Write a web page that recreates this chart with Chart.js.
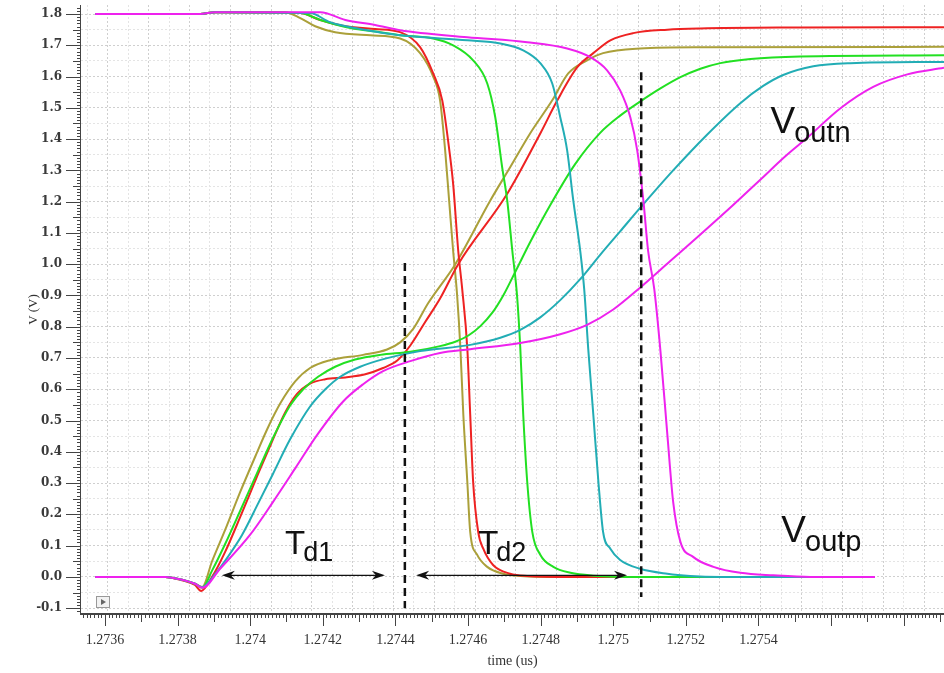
<!DOCTYPE html>
<html>
<head>
<meta charset="utf-8">
<script src="https://cdn.jsdelivr.net/npm/chart.js@4.4.1/dist/chart.umd.min.js"></script>
<style>
  html, body { margin: 0; padding: 0; background: #fff; }
  #wrap { width: 944px; height: 673px; }
</style>
</head>
<body>
<div id="wrap"><canvas id="myChart-delay"></canvas></div>
<script>
// axis tick labels
const xTickLabels = ['1.2736', '1.2738', '1.274', '1.2742', '1.2744', '1.2746', '1.2748', '1.275', '1.2752', '1.2754'];
const yTickLabels = ['-0.1', '0.0', '0.1', '0.2', '0.3', '0.4', '0.5', '0.6', '0.7', '0.8', '0.9',
                     '1.0', '1.1', '1.2', '1.3', '1.4', '1.5', '1.6', '1.7', '1.8'];

// Voutn traces (rising) : [time (us), V]
const outnOlive = [
  [1.273573, 0], [1.273766, 0], [1.273815, -0.010], [1.273848, -0.022], [1.273868, -0.032],
  [1.273895, 0.050], [1.273931, 0.150], [1.273972, 0.270], [1.274014, 0.385], [1.274050, 0.480],
  [1.274083, 0.555], [1.274124, 0.625], [1.274165, 0.668], [1.274220, 0.693], [1.274311, 0.710],
  [1.274377, 0.727], [1.274413, 0.750], [1.274449, 0.793], [1.274490, 0.875], [1.274565, 1.000],
  [1.274661, 1.203], [1.274716, 1.310], [1.274771, 1.418], [1.274832, 1.524], [1.274876, 1.610],
  [1.274928, 1.652], [1.274972, 1.675], [1.275074, 1.690], [1.275240, 1.694], [1.275911, 1.695]
];
const outnRed = [
  [1.273573, 0], [1.273766, 0], [1.273815, -0.012], [1.273848, -0.026], [1.273865, -0.045],
  [1.273895, 0.000], [1.273931, 0.080], [1.273972, 0.190], [1.274022, 0.330], [1.274061, 0.435],
  [1.274096, 0.525], [1.274129, 0.585], [1.274165, 0.618], [1.274207, 0.632], [1.274262, 0.638],
  [1.274317, 0.648], [1.274366, 0.668], [1.274405, 0.692], [1.274441, 0.740], [1.274482, 0.815],
  [1.274523, 0.890], [1.274573, 1.000], [1.274708, 1.225], [1.274799, 1.418], [1.274846, 1.524],
  [1.274901, 1.630], [1.274945, 1.675], [1.274992, 1.716], [1.275055, 1.739], [1.275149, 1.750],
  [1.275240, 1.754], [1.275515, 1.757], [1.275911, 1.758]
];
const outnGreen = [
  [1.273573, 0], [1.273766, 0], [1.273815, -0.010], [1.273848, -0.022], [1.273868, -0.035],
  [1.273895, 0.020], [1.273931, 0.105], [1.273972, 0.210], [1.274022, 0.340], [1.274063, 0.445],
  [1.274110, 0.548], [1.274146, 0.600], [1.274187, 0.640], [1.274234, 0.672], [1.274289, 0.695],
  [1.274358, 0.710], [1.274441, 0.720], [1.274523, 0.738], [1.274565, 0.752], [1.274601, 0.772],
  [1.274634, 0.802], [1.274667, 0.845], [1.274697, 0.900], [1.274730, 0.975], [1.274771, 1.070],
  [1.274827, 1.190], [1.274895, 1.320], [1.274964, 1.420], [1.275019, 1.475], [1.275074, 1.520],
  [1.275130, 1.562], [1.275185, 1.598], [1.275240, 1.625], [1.275295, 1.643], [1.275378, 1.656],
  [1.275515, 1.664], [1.275911, 1.668]
];
const outnTeal = [
  [1.273573, 0], [1.273766, 0], [1.273815, -0.010], [1.273848, -0.022], [1.273868, -0.033],
  [1.273904, 0.010], [1.273939, 0.065], [1.273978, 0.135], [1.274022, 0.235], [1.274063, 0.330],
  [1.274110, 0.440], [1.274165, 0.545], [1.274207, 0.600], [1.274248, 0.640], [1.274303, 0.672],
  [1.274372, 0.698], [1.274468, 0.722], [1.274606, 0.742], [1.274689, 0.765], [1.274744, 0.790],
  [1.274799, 0.830], [1.274854, 0.885], [1.274909, 0.952], [1.274964, 1.030], [1.275019, 1.105],
  [1.275074, 1.180], [1.275165, 1.300], [1.275259, 1.415], [1.275350, 1.515], [1.275413, 1.570],
  [1.275468, 1.605], [1.275551, 1.633], [1.275653, 1.643], [1.275911, 1.647]
];
const outnMagenta = [
  [1.273573, 0], [1.273766, 0], [1.273815, -0.010], [1.273848, -0.022], [1.273868, -0.035],
  [1.273917, 0.026], [1.274000, 0.135], [1.274063, 0.240], [1.274124, 0.347], [1.274185, 0.455],
  [1.274256, 0.561], [1.274311, 0.616], [1.274366, 0.658], [1.274441, 0.690], [1.274523, 0.716],
  [1.274606, 0.728], [1.274744, 0.748], [1.274854, 0.776], [1.274928, 0.806], [1.275000, 0.855],
  [1.275074, 0.925], [1.275157, 1.010], [1.275240, 1.095], [1.275331, 1.190], [1.275405, 1.270],
  [1.275474, 1.345], [1.275535, 1.405], [1.275625, 1.498], [1.275716, 1.567], [1.275810, 1.607],
  [1.275911, 1.628]
];

// Voutp traces (falling)
const outpOlive = [
  [1.273573, 1.800], [1.273862, 1.800], [1.273904, 1.806], [1.274096, 1.806], [1.274138, 1.787],
  [1.274179, 1.761], [1.274234, 1.742], [1.274331, 1.732], [1.274413, 1.722], [1.274468, 1.675],
  [1.274504, 1.600], [1.274523, 1.524], [1.274537, 1.364], [1.274548, 1.203], [1.274559, 1.043],
  [1.274570, 0.900], [1.274579, 0.731], [1.274587, 0.520], [1.274598, 0.305], [1.274606, 0.144],
  [1.274625, 0.071], [1.274653, 0.032], [1.274697, 0.010], [1.274744, 0.003], [1.274854, 0], [1.275721, 0]
];
const outpRed = [
  [1.273573, 1.800], [1.273862, 1.800], [1.273904, 1.806], [1.274138, 1.803], [1.274193, 1.781],
  [1.274262, 1.761], [1.274344, 1.752], [1.274413, 1.742], [1.274468, 1.694], [1.274504, 1.610],
  [1.274529, 1.524], [1.274545, 1.396], [1.274559, 1.257], [1.274573, 1.043], [1.274584, 0.920],
  [1.274598, 0.731], [1.274606, 0.520], [1.274614, 0.305], [1.274628, 0.144], [1.274642, 0.090],
  [1.274669, 0.038], [1.274716, 0.010], [1.274763, 0.003], [1.274882, 0], [1.275721, 0]
];
const outpGreen = [
  [1.273573, 1.800], [1.273862, 1.800], [1.273904, 1.806], [1.274138, 1.803], [1.274193, 1.781],
  [1.274276, 1.755], [1.274358, 1.742], [1.274413, 1.732], [1.274504, 1.722], [1.274559, 1.700],
  [1.274614, 1.652], [1.274653, 1.578], [1.274675, 1.470], [1.274694, 1.310], [1.274708, 1.203],
  [1.274722, 1.043], [1.274735, 0.900], [1.274744, 0.731], [1.274752, 0.520], [1.274763, 0.305],
  [1.274777, 0.144], [1.274799, 0.071], [1.274835, 0.032], [1.274882, 0.013], [1.274945, 0.004],
  [1.275074, 0], [1.275721, 0]
];
const outpTeal = [
  [1.273573, 1.800], [1.273862, 1.800], [1.273904, 1.806], [1.274165, 1.803], [1.274220, 1.774],
  [1.274303, 1.752], [1.274413, 1.732], [1.274598, 1.716], [1.274689, 1.706], [1.274752, 1.684],
  [1.274799, 1.643], [1.274832, 1.578], [1.274854, 1.470], [1.274873, 1.364], [1.274890, 1.203],
  [1.274909, 1.043], [1.274920, 0.920], [1.274931, 0.731], [1.274945, 0.520], [1.274959, 0.305],
  [1.274972, 0.144], [1.274992, 0.090], [1.275019, 0.054], [1.275074, 0.026], [1.275149, 0.010],
  [1.275212, 0.003], [1.275295, 0], [1.275721, 0]
];
const outpMagenta = [
  [1.273573, 1.800], [1.273862, 1.800], [1.273904, 1.806], [1.274193, 1.806], [1.274262, 1.781],
  [1.274344, 1.765], [1.274413, 1.748], [1.274598, 1.726], [1.274763, 1.710], [1.274873, 1.690],
  [1.274937, 1.662], [1.274983, 1.620], [1.275019, 1.556], [1.275047, 1.470], [1.275066, 1.364],
  [1.275083, 1.203], [1.275096, 1.043], [1.275113, 0.920], [1.275130, 0.722], [1.275149, 0.455],
  [1.275165, 0.240], [1.275185, 0.112], [1.275220, 0.064], [1.275276, 0.032], [1.275350, 0.013],
  [1.275441, 0.005], [1.275543, 0], [1.275721, 0]
];

// dashed markers and delay arrows
const markerTimes = [1.274426, 1.275077];
const markerTops = [1.004, 1.614];
const markerBottoms = [-0.1, -0.064];
const delaySpans = [[1.273922, 1.274371], [1.274457, 1.275038]];
const arrowLevel = 0.005;

// text labels: main letter, subscript, anchor time, anchor V (baseline)
const textLabels = [
  ['T', 'd1', 1.274096, 0.074],
  ['T', 'd2', 1.274628, 0.074],
  ['V', 'outn', 1.275433, 1.421],
  ['V', 'outp', 1.275463, 0.112]
];

const X_MIN = 1.273534, X_MAX = 1.275911;
const Y_MIN = -0.1187, Y_MAX = 1.8289;
const GRID_START = 1.273608, GRID_STEP = 0.0000562; // vertical dotted grid of the scope view

const colors = { olive: '#aba03a', red: '#ee2222', green: '#22e022', teal: '#22adb5', magenta: '#ee22ee' };

function trace(data, color, order) {
  return { data: data, borderColor: color, borderWidth: 2, pointRadius: 0,
           cubicInterpolationMode: 'monotone', fill: false, order: order };
}

const datasets = [
  trace(outpMagenta, colors.magenta, 1), trace(outnMagenta, colors.magenta, 1),
  trace(outpTeal, colors.teal, 2), trace(outnTeal, colors.teal, 2),
  trace(outpGreen, colors.green, 3), trace(outnGreen, colors.green, 3),
  trace(outpRed, colors.red, 4), trace(outnRed, colors.red, 4),
  trace(outpOlive, colors.olive, 5), trace(outnOlive, colors.olive, 5)
];
markerTimes.forEach((t, i) => {
  datasets.push({
    data: [[t, markerTops[i]], [t, markerBottoms[i]]],
    borderColor: '#111', borderWidth: 2.5, borderDash: [8, 5],
    pointRadius: 0, tension: 0, fill: false, order: 0
  });
});

const overlay = {
  id: 'overlay',
  afterDatasetsDraw(chart) {
    const { ctx, scales: { x, y } } = chart;
    ctx.save();
    // double-headed arrows
    ctx.strokeStyle = '#111';
    ctx.fillStyle = '#111';
    ctx.lineWidth = 1.3;
    delaySpans.forEach(([t0, t1]) => {
      const x0 = x.getPixelForValue(t0), x1 = x.getPixelForValue(t1);
      const py = y.getPixelForValue(arrowLevel);
      ctx.beginPath();
      ctx.moveTo(x0 + 6, py);
      ctx.lineTo(x1 - 6, py);
      ctx.stroke();
      [[x0, 1], [x1, -1]].forEach(([px, d]) => {
        ctx.beginPath();
        ctx.moveTo(px, py);
        ctx.lineTo(px + d * 13, py - 4.5);
        ctx.lineTo(px + d * 9, py);
        ctx.lineTo(px + d * 13, py + 4.5);
        ctx.closePath();
        ctx.fill();
      });
    });
    // subscripted labels
    ctx.fillStyle = '#111';
    ctx.textBaseline = 'alphabetic';
    textLabels.forEach(([main, sub, t, v]) => {
      const big = main === 'V';
      const px = x.getPixelForValue(t), py = y.getPixelForValue(v);
      ctx.font = (big ? 37 : 33) + 'px "Liberation Sans", Arial, sans-serif';
      ctx.fillText(main, px, py);
      const w = ctx.measureText(main).width;
      ctx.font = (big ? 29 : 27) + 'px "Liberation Sans", Arial, sans-serif';
      ctx.fillText(sub, px + w - (big ? 1 : 2), py + (big ? 9 : 7));
    });
    ctx.restore();
  },
  afterDraw(chart) {
    const { ctx, chartArea: a, scales: { x, y } } = chart;
    ctx.save();
    ctx.strokeStyle = '#444';
    ctx.lineWidth = 1;
    // y ruler
    ctx.beginPath();
    ctx.moveTo(a.left - 0.5, a.top);
    ctx.lineTo(a.left - 0.5, a.bottom);
    for (let i = Math.ceil(y.min * 100); i <= Math.floor(y.max * 100); i++) {
      const py = Math.round(y.getPixelForValue(i / 100)) + 0.5;
      const len = i % 10 === 0 ? 15 : (i % 5 === 0 ? 8 : 4);
      ctx.moveTo(a.left - len, py);
      ctx.lineTo(a.left, py);
    }
    ctx.stroke();
    // x ruler
    ctx.beginPath();
    for (let i = Math.ceil(x.min * 1e5); i <= Math.floor(x.max * 1e5); i++) {
      const px = Math.round(x.getPixelForValue(i / 1e5)) + 0.5;
      const len = i % 20 === 0 ? 12 : (i % 10 === 0 ? 8 : 4);
      ctx.moveTo(px, a.bottom);
      ctx.lineTo(px, a.bottom + len);
    }
    ctx.stroke();
    // small play button of the viewer
    ctx.fillStyle = '#f2f2f2';
    ctx.strokeStyle = '#999';
    ctx.fillRect(a.left + 15.5, a.bottom - 17.5, 13, 11);
    ctx.strokeRect(a.left + 15.5, a.bottom - 17.5, 13, 11);
    ctx.fillStyle = '#666';
    ctx.beginPath();
    ctx.moveTo(a.left + 20, a.bottom - 15);
    ctx.lineTo(a.left + 25, a.bottom - 12);
    ctx.lineTo(a.left + 20, a.bottom - 9);
    ctx.closePath();
    ctx.fill();
    ctx.restore();
  }
};

const serif = '"Liberation Serif", "Times New Roman", serif';

document.addEventListener('DOMContentLoaded', function () {
  const ctx = document.getElementById('myChart-delay');
  new Chart(ctx, {
    type: 'line',
    data: { datasets: datasets },
    options: {
      responsive: true,
      maintainAspectRatio: false,
      animation: false,
      layout: { padding: { top: 5, right: 0, bottom: 0, left: 0 } },
      plugins: { legend: { display: false }, tooltip: { enabled: false } },
      scales: {
        x: {
          type: 'linear', position: 'bottom', min: X_MIN, max: X_MAX,
          afterBuildTicks: s => { s.ticks = xTickLabels.map(l => ({ value: parseFloat(l) })); },
          afterFit: s => { s.height = 59; s.paddingLeft = 0; s.paddingRight = 0; },
          ticks: {
            autoSkip: false, maxRotation: 0, padding: 18, color: '#333',
            font: { family: serif, size: 14 },
            callback: (v, i) => xTickLabels[i]
          },
          grid: { drawOnChartArea: false, drawTicks: false },
          border: { color: '#444', width: 2 },
          title: { display: true, text: 'time (us)', color: '#333',
                   font: { family: serif, size: 14 }, padding: { top: 0, bottom: 3 } }
        },
        xg: {
          type: 'linear', position: 'top', min: X_MIN, max: X_MAX,
          afterBuildTicks: s => {
            const t = [];
            for (let k = -2; k < 50; k++) {
              const v = GRID_START + k * GRID_STEP;
              if (v >= s.min && v <= s.max) t.push({ value: v });
            }
            s.ticks = t;
          },
          afterFit: s => { s.height = 0; s.paddingLeft = 0; s.paddingRight = 0; },
          ticks: { display: false },
          grid: {
            drawTicks: false, lineWidth: 1,
            color: c => Math.abs(Math.round((c.tick.value - GRID_START) / GRID_STEP)) % 2 === 0 ? '#cfcfcf' : '#e4e4e4'
          },
          border: { display: false, dash: [2, 2] }
        },
        y: {
          type: 'linear', min: Y_MIN, max: Y_MAX,
          afterBuildTicks: s => {
            const t = [];
            yTickLabels.forEach(l => {
              const v = parseFloat(l);
              t.push({ value: v });
              if (v + 0.05 < s.max) t.push({ value: v + 0.05 });
            });
            s.ticks = t;
          },
          afterFit: s => { s.width = 81; s.paddingTop = 0; s.paddingBottom = 0; },
          ticks: {
            autoSkip: false, padding: 19, color: '#3a3a3a',
            font: { family: '"DejaVu Serif", serif', size: 12, weight: 'bold' },
            callback: (v, i) => (i % 2 === 0 ? yTickLabels[i / 2] : '')
          },
          grid: {
            drawTicks: false, lineWidth: 1,
            color: c => (c.index % 2 === 0 ? '#cfcfcf' : '#e4e4e4')
          },
          border: { display: false, dash: [2, 2] },
          title: { display: true, text: 'V (V)', color: '#333',
                   font: { family: serif, size: 13 }, padding: { top: 26, bottom: 0 } }
        }
      }
    },
    plugins: [overlay]
  });
});
</script>
</body>
</html>
